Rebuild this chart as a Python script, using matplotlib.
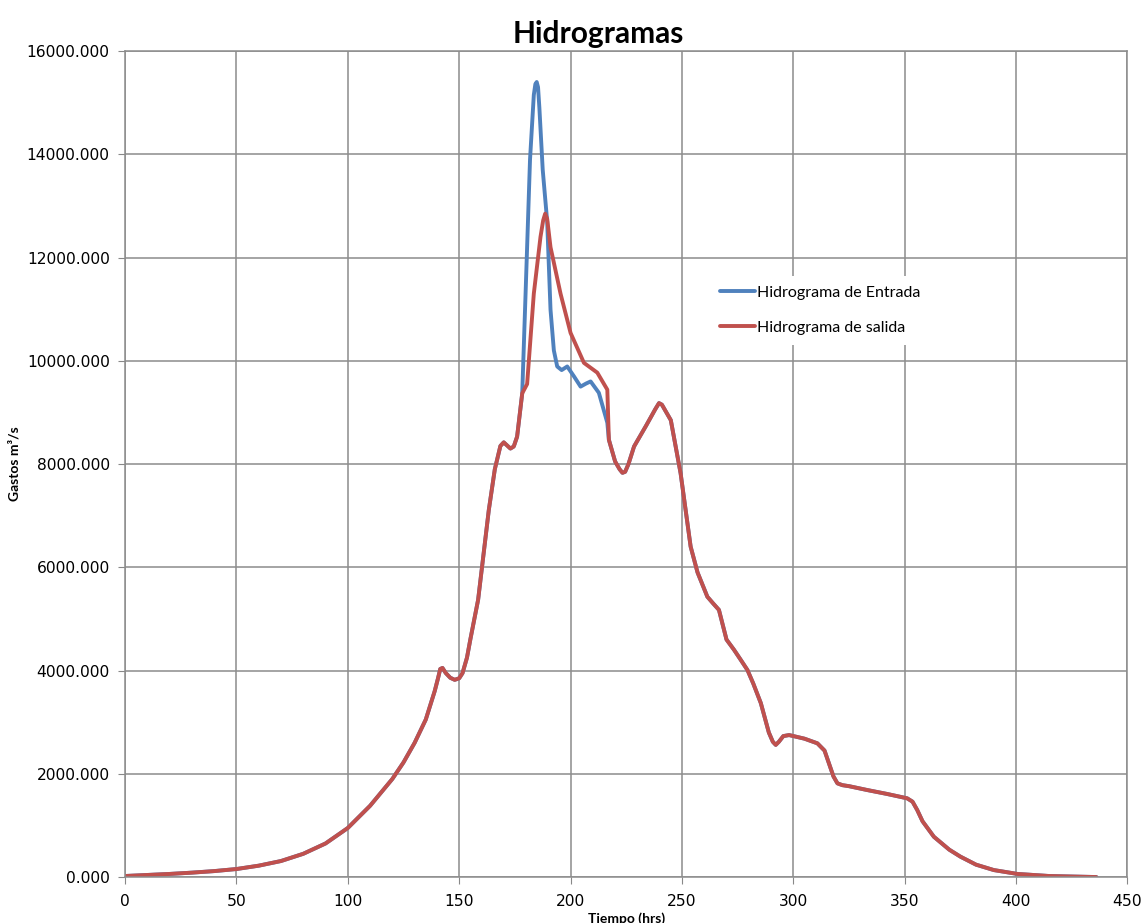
import numpy as np
import matplotlib
matplotlib.use("Agg")
import matplotlib.pyplot as plt

# Hidrograma de salida
t_salida = [0, 10, 20, 30, 40, 50, 60, 70, 80, 90, 100, 110, 120, 125, 130, 135,
            139, 140.5, 141.5, 142.5, 144, 146, 148, 150, 151.5, 153.5, 155, 158.5,
            163.3, 166, 168.5, 170, 171.5, 173, 174.5, 176, 178.3, 180.5, 183.5,
            186.5, 187.7, 188.6, 189.5, 191, 195.5, 200, 206, 212, 216.5, 217.2,
            220, 222, 223.3, 224.5, 226, 228.5, 234, 238, 239.7, 241, 243, 245,
            249.4, 253.9, 257, 261.4, 264, 266.6, 270, 273.4, 276.5, 279.4, 282,
            285.4, 289, 290.8, 292.1, 293.5, 295.5, 298.1, 305, 310.8, 314, 318,
            319.8, 322, 325, 333.2, 342, 351.1, 353.5, 355.6, 358, 363.1, 370,
            375, 382, 390, 400.6, 414.8, 425, 436]
q_salida = [20, 40, 60, 85, 115, 155, 220, 310, 450, 650, 950, 1380, 1900, 2220,
            2600, 3050, 3600, 3850, 4030, 4050, 3950, 3860, 3820, 3850, 3950, 4250,
            4600, 5370, 7110, 7900, 8350, 8420, 8360, 8300, 8340, 8530, 9370, 9550,
            11300, 12400, 12720, 12850, 12750, 12200, 11300, 10540, 9960, 9770,
            9440, 8470, 8050, 7900, 7830, 7850, 8000, 8340, 8750, 9060, 9180, 9150,
            9000, 8850, 7820, 6400, 5900, 5430, 5300, 5175, 4600, 4400, 4200, 4010,
            3750, 3370, 2800, 2620, 2560, 2620, 2730, 2750, 2680, 2590, 2450, 1950,
            1815, 1780, 1760, 1685, 1610, 1525, 1460, 1300, 1080, 780, 530, 395,
            240, 135, 60, 20, 10, 0]

# Hidrograma de entrada: differs from salida only around the peak
t_pico = [176, 178.3, 179.8, 181.8, 183.5, 184.2, 184.8, 185.4, 186, 187.5,
          189.5, 191, 192.5, 194, 196, 198.5, 201.5, 204.5, 207, 209, 212.7,
          216.5, 217.2]
q_pico = [8530, 9370, 11300, 13900, 15150, 15360, 15400, 15300, 14900, 13700,
          12700, 10990, 10200, 9890, 9820, 9890, 9700, 9500, 9560, 9600, 9380,
          8800, 8470]

t_sal = np.array(t_salida)
q_sal = np.array(q_salida)
antes = t_sal < t_pico[0]
despues = t_sal > t_pico[-1]
t_entrada = np.concatenate([t_sal[antes], t_pico, t_sal[despues]])
q_entrada = np.concatenate([q_sal[antes], q_pico, q_sal[despues]])

fig = plt.figure(figsize=(11.45, 9.23), dpi=100)
ax = fig.add_axes([0.1092, 0.0498, 0.8755, 0.8949])

ax.plot(t_entrada, q_entrada, color="#4F81BD", lw=2.8, label="Hidrograma de Entrada",
        solid_joinstyle="round", solid_capstyle="round")
ax.plot(t_sal, q_sal, color="#C0504D", lw=2.8, label="Hidrograma de salida",
        solid_joinstyle="round", solid_capstyle="round")

ax.set_xlim(0, 450)
ax.set_ylim(0, 16000)
ax.set_xticks(np.arange(0, 451, 50))
ax.set_yticks(np.arange(0, 16001, 2000))
ax.set_yticklabels([f"{v:.3f}" for v in np.arange(0, 16001, 2000)])
ax.tick_params(labelsize=11.2, length=5, color="#888888", pad=6)
ax.tick_params(axis="x", pad=7)
ax.grid(True, color="#8c8c8c", lw=1.1)
for s in ax.spines.values():
    s.set_color("#8c8c8c")
    s.set_linewidth(1.1)

ax.set_title("Hidrogramas", fontsize=21.5, fontweight="bold", family="Lato",
             x=0.472, pad=6)
ax.set_xlabel("Tiempo (hrs)", fontsize=10, fontweight="bold", family="Lato")
ax.xaxis.set_label_coords(0.5, -0.043)
ax.set_ylabel("Gastos m³/s", fontsize=10, fontweight="bold", family="Lato")
ax.yaxis.set_label_coords(-0.104, 0.5)

leg = ax.legend(loc="upper left", bbox_to_anchor=(0.576, 0.737), frameon=True,
                prop={"family": "Lato", "size": 11.5}, handlelength=2.2,
                handletextpad=0.12, labelspacing=1.3, borderpad=0.6)
leg.get_frame().set_facecolor("white")
leg.get_frame().set_edgecolor("none")
leg.get_frame().set_alpha(1)

plt.savefig("out.png", dpi=100)
